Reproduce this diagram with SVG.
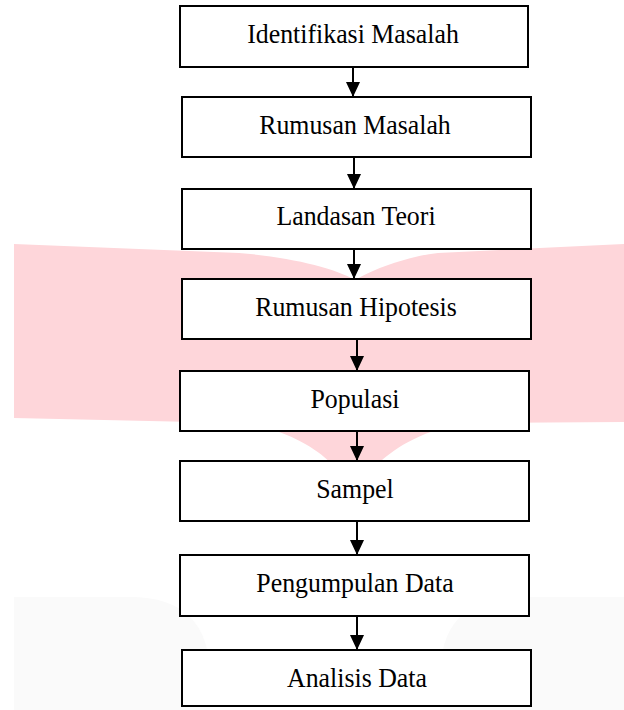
<svg xmlns="http://www.w3.org/2000/svg" width="624" height="710" viewBox="0 0 624 710">
<defs>
<style>
.box{fill:#fff;stroke:#000;stroke-width:2}
.lbl{font-family:"Liberation Serif","Times New Roman",serif;font-size:27.5px;fill:#000;text-anchor:middle}
.edge{stroke:#000;stroke-width:2;fill:none}
</style>
<marker id="ah" markerUnits="userSpaceOnUse" markerWidth="16" markerHeight="14" refX="15" refY="7" orient="auto" viewBox="0 0 16 14">
<path d="M0,0 L15,7 L0,14 Z" fill="#000"/>
</marker>
</defs>
<rect width="624" height="710" fill="#fff"/>
<g id="watermark">
<path d="M14,244 L239,253 C290,257 335,268 355,280 C375,268 410,256 438,253 L624,244 L624,422 L470,423 C425,428 395,448 380,462 L330,462 C315,448 285,428 239,423 L14,418 Z" fill="#fed6da"/>
<path d="M14,597 L130,597 Q210,597 210,677 L210,710 L14,710 Z" fill="#fafafa"/>
<path d="M624,597 L520,597 Q440,597 440,677 L440,710 L624,710 Z" fill="#fafafa"/>
</g>
<g id="connectors">
<line class="edge" x1="353" y1="67" x2="353" y2="97" marker-end="url(#ah)"/>
<line class="edge" x1="354" y1="157" x2="354" y2="189" marker-end="url(#ah)"/>
<line class="edge" x1="354" y1="249" x2="354" y2="279" marker-end="url(#ah)"/>
<line class="edge" x1="357" y1="339" x2="357" y2="371" marker-end="url(#ah)"/>
<line class="edge" x1="357" y1="431" x2="357" y2="461" marker-end="url(#ah)"/>
<line class="edge" x1="357" y1="521" x2="357" y2="555" marker-end="url(#ah)"/>
<line class="edge" x1="357" y1="616" x2="357" y2="650" marker-end="url(#ah)"/>
</g>
<g id="n1"><rect class="box" x="180" y="6" width="348" height="61"/><text class="lbl" transform="translate(353,43) scale(0.94,1)">Identifikasi Masalah</text></g>
<g id="n2"><rect class="box" x="182" y="97" width="349" height="60"/><text class="lbl" transform="translate(355,134) scale(0.94,1)">Rumusan Masalah</text></g>
<g id="n3"><rect class="box" x="182" y="189" width="349" height="60"/><text class="lbl" transform="translate(356,225) scale(0.94,1)">Landasan Teori</text></g>
<g id="n4"><rect class="box" x="182" y="279" width="349" height="60"/><text class="lbl" transform="translate(356,316) scale(0.94,1)">Rumusan Hipotesis</text></g>
<g id="n5"><rect class="box" x="180" y="371" width="349" height="60"/><text class="lbl" transform="translate(355,408) scale(0.94,1)">Populasi</text></g>
<g id="n6"><rect class="box" x="180" y="461" width="349" height="60"/><text class="lbl" transform="translate(355,498) scale(0.94,1)">Sampel</text></g>
<g id="n7"><rect class="box" x="180" y="555" width="349" height="61"/><text class="lbl" transform="translate(355,592) scale(0.94,1)">Pengumpulan Data</text></g>
<g id="n8"><rect class="box" x="182" y="650" width="349" height="56"/><text class="lbl" transform="translate(357,687) scale(0.94,1)">Analisis Data</text></g>
</svg>
